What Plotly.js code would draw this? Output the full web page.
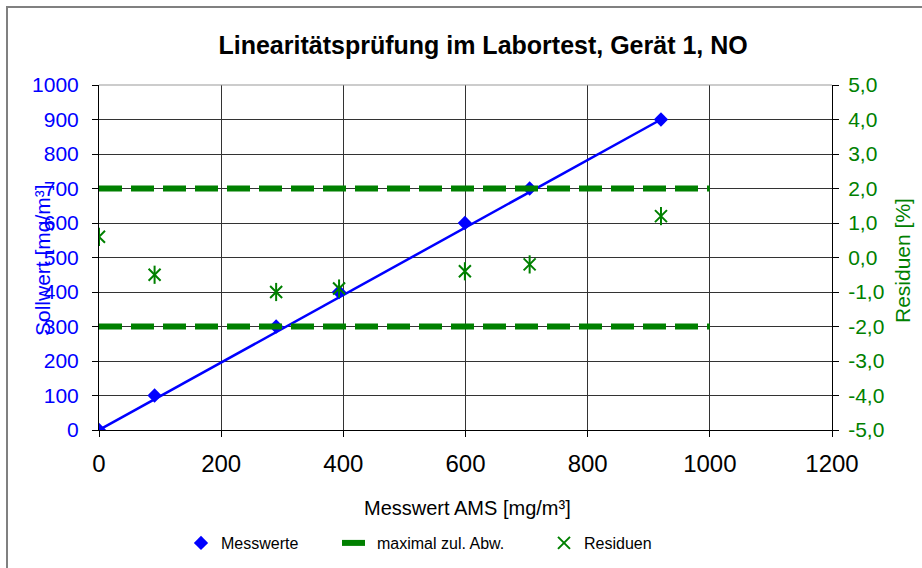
<!DOCTYPE html>
<html>
<head>
<meta charset="utf-8">
<script src="https://cdn.plot.ly/plotly-3.0.1.min.js"></script>
<style>html,body{margin:0;padding:0;background:#fff;}#chart{width:922px;height:568px;}</style>
</head>
<body>
<div id="chart"></div>
<script>
// Messwerte (x: Messwert AMS, y: Sollwert)
const messX = [0, 91, 290, 393, 599, 705, 920];
const messY = [0, 100, 300, 400, 600, 700, 900];
const trendX = [0, 920];
const trendY = [0, 900];
// Residuen [%]
const resX = [0, 91, 290, 393, 599, 705, 920];
const resY = [0.6, -0.5, -1.0, -0.9, -0.4, -0.2, 1.2];
// maximal zulässige Abweichung [%]
const limX = [0, 1000, null, 0, 1000];
const limY = [2, 2, null, -2, -2];

const xTicks = [0, 200, 400, 600, 800, 1000, 1200];
const y2Ticks = [-5, -4, -3, -2, -1, 0, 1, 2, 3, 4, 5];
const y2Labels = ['-5,0', '-4,0', '-3,0', '-2,0', '-1,0', '0,0', '1,0', '2,0', '3,0', '4,0', '5,0'];

const BLUE = '#0000ff', GREEN = '#008000';
const FONT = 'Liberation Sans, Arial, sans-serif';
const px2x = p => (p - 99) / 733;
const px2y = p => (430 - p) / 345;

const traces = [
  {x: trendX, y: trendY, mode: 'lines', line: {color: BLUE, width: 2.5}, showlegend: false, hoverinfo: 'skip'},
  {x: messX, y: messY, mode: 'markers', name: 'Messwerte', legend: 'legend',
   marker: {symbol: 'diamond', size: 11, color: BLUE}},
  {x: limX, y: limY, yaxis: 'y2', mode: 'lines', name: 'maximal zul. Abw.', legend: 'legend2',
   line: {color: GREEN, width: 6, dash: '23px,9px'}, connectgaps: false},
  {x: resX, y: resY, yaxis: 'y2', mode: 'markers', name: 'Residuen', legend: 'legend3', legendgroup: 'res',
   marker: {symbol: 'x-thin-open', size: 12, color: GREEN, line: {color: GREEN, width: 2}}},
  {x: resX, y: resY, yaxis: 'y2', mode: 'markers', name: 'Residuen', legendgroup: 'res', showlegend: false,
   marker: {symbol: 'line-ns-open', size: 13, color: GREEN, line: {color: GREEN, width: 2}}}
];

const legFont = {family: FONT, size: 16, color: '#000'};
const legY = px2y(543);

const layout = {
  width: 922, height: 568,
  margin: {l: 99, r: 90, t: 85, b: 138, autoexpand: false},
  paper_bgcolor: '#fff', plot_bgcolor: '#fff',
  separators: ',.',
  font: {family: FONT, size: 16, color: '#000'},
  title: {text: '<b>Linearitätsprüfung im Labortest, Gerät 1, NO</b>', font: {family: FONT, size: 25, color: '#000'},
          x: 0.524, xref: 'paper', xanchor: 'center', y: 1 - 45/568, yanchor: 'middle'},
  xaxis: {range: [0, 1200], tickvals: xTicks, ticks: 'outside', ticklen: 6, tickcolor: '#000', ticklabelstandoff: 6,
          showline: true, linecolor: '#000', linewidth: 1, showgrid: true, gridcolor: '#333', gridwidth: 1,
          zeroline: false, tickfont: {family: FONT, size: 24, color: '#000'}},
  yaxis: {range: [0, 1000], dtick: 100, tick0: 0, ticks: 'outside', ticklen: 6, tickcolor: '#000', ticklabelstandoff: 9,
          showline: true, linecolor: '#000', linewidth: 1, showgrid: true, gridcolor: '#333', gridwidth: 1,
          zeroline: false, tickfont: {family: FONT, size: 21, color: BLUE}},
  yaxis2: {range: [-5, 5], tickvals: y2Ticks, ticktext: y2Labels, overlaying: 'y', side: 'right',
           ticks: 'outside', ticklen: 6, tickcolor: '#000', ticklabelstandoff: 5, showline: true, linecolor: '#000', linewidth: 1,
           showgrid: false, zeroline: false, tickfont: {family: FONT, size: 21, color: GREEN}},
  showlegend: true,
  legend: {orientation: 'h', x: px2x(181), xanchor: 'left', y: legY, yanchor: 'middle',
           font: legFont, bgcolor: 'rgba(0,0,0,0)'},
  legend2: {orientation: 'h', x: px2x(337), xanchor: 'left', y: legY, yanchor: 'middle',
           font: legFont, bgcolor: 'rgba(0,0,0,0)'},
  legend3: {orientation: 'h', x: px2x(544), xanchor: 'left', y: legY, yanchor: 'middle',
           font: legFont, bgcolor: 'rgba(0,0,0,0)'},
  annotations: [
    {text: 'Sollwert [mg/m³]', xref: 'paper', yref: 'paper', x: px2x(42), y: px2y(260), showarrow: false,
     textangle: -90, font: {family: FONT, size: 21, color: BLUE}, xanchor: 'center', yanchor: 'middle'},
    {text: 'Residuen [%]', xref: 'paper', yref: 'paper', x: px2x(902), y: px2y(260), showarrow: false,
     textangle: -90, font: {family: FONT, size: 21, color: GREEN}, xanchor: 'center', yanchor: 'middle'},
    {text: 'Messwert AMS [mg/m³]', xref: 'paper', yref: 'paper', x: px2x(467), y: px2y(508), showarrow: false,
     font: {family: FONT, size: 20, color: '#000'}, xanchor: 'center', yanchor: 'middle'}
  ],
  shapes: [
    {type: 'rect', xref: 'paper', yref: 'paper', x0: px2x(7), x1: 1.3, y0: -0.6, y1: px2y(7),
     line: {color: '#808080', width: 2}, fillcolor: 'rgba(0,0,0,0)'},
    {type: 'line', xref: 'paper', yref: 'paper', x0: 0, x1: 1, y0: 1, y1: 1, line: {color: '#999', width: 1}}
  ]
};

Plotly.newPlot('chart', traces, layout, {displayModeBar: false, staticPlot: true});
</script>
</body>
</html>
